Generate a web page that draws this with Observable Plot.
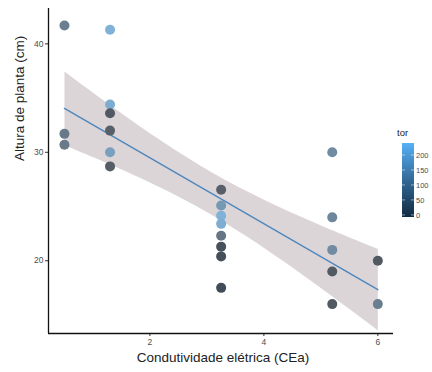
<!DOCTYPE html>
<html>
<head>
<meta charset="utf-8">
<script src="https://cdn.jsdelivr.net/npm/d3@7"></script>
<script src="https://cdn.jsdelivr.net/npm/@observablehq/plot@0.6"></script>
<style>
  html, body { margin: 0; padding: 0; background: #fff; overflow: hidden; }
  #wrap { position: relative; width: 432px; height: 372px; }
  #legend { position: absolute; left: 0; top: 0; pointer-events: none; }
</style>
</head>
<body>
<div id="wrap"></div>
<script>
// ---- data ----
const cea    = [0.5,0.5,0.5, 1.3,1.3,1.3,1.3,1.3,1.3, 3.25,3.25,3.25,3.25,3.25,3.25,3.25,3.25, 5.2,5.2,5.2,5.2,5.2, 6,6];
const altura = [41.7,31.7,30.7, 41.3,34.4,33.6,32.0,30.0,28.7, 26.55,25.1,24.15,23.4,22.3,21.3,20.4,17.5, 30.0,24.0,21.0,19.0,16.0, 20.0,16.0];
const tor    = [110,100,100, 230,220,30,40,190,35, 40,170,230,220,90,15,10,5, 140,130,140,30,30, 30,110];
const xTicks = [2, 4, 6];
const yTicks = [20, 30, 40];
const legendTicks = [0, 50, 100, 150, 200];
const xTitle = "Condutividade elétrica (CEa)";
const yTitle = "Altura de planta (cm)";
const legendTitle = "tor";

const xDomain = [0.22, 6.275];
const yDomain = [13.29, 43.26];
const torDomain = [-7, 240];

const data = cea.map((c, i) => ({cea: c, altura: altura[i], tor: tor[i]}));

const plot = Plot.plot({
  width: 432,
  height: 372,
  marginLeft: 48,
  marginRight: 39,
  marginTop: 8,
  marginBottom: 39,
  style: {fontFamily: "'Liberation Sans', Arial, sans-serif", fontSize: "8.5px", color: "#4d4d4d", background: "#fff"},
  x: {domain: xDomain},
  y: {domain: yDomain},
  color: {type: "linear", domain: [0, 50, 240], range: ["#3d4955", "#5f656d", "#82b5dc"], clamp: true},
  marks: [
    Plot.linearRegressionY(data, {x: "cea", y: "altura", ci: 0.95, stroke: "#4f88bd", strokeWidth: 1.5, fill: "#dcd5d8", fillOpacity: 1}),
    Plot.dot(data, {x: "cea", y: "altura", r: 5, fill: "tor", stroke: "none"}),
    Plot.axisX({ticks: xTicks, tickFormat: d3.format("d"), tickSize: 3, tickPadding: 2, label: null, stroke: "#333"}),
    Plot.axisY({ticks: yTicks, tickFormat: d3.format("d"), tickSize: 3, tickPadding: 2, label: null, stroke: "#333"}),
    Plot.ruleY([yDomain[0]], {stroke: "#111", strokeWidth: 1.3}),
    Plot.ruleX([xDomain[0]], {stroke: "#111", strokeWidth: 1.3}),
    Plot.text([xTitle], {frameAnchor: "bottom", dy: 28, dx: 2, fontSize: 13.5, fill: "#222"}),
    Plot.text([yTitle], {frameAnchor: "left", rotate: -90, dx: -29, dy: -10, fontSize: 13.5, fill: "#222"})
  ]
});
document.getElementById("wrap").appendChild(plot);

// ---- colourbar legend ----
const ly = d3.scaleLinear(torDomain, [217, 143]);
const ramp = d3.scaleLinear(torDomain, ["#132B43", "#56B1F7"]).interpolate(d3.interpolateLab);
const svg = d3.select("#wrap").append("svg")
  .attr("id", "legend").attr("width", 432).attr("height", 372)
  .style("font-family", "'Liberation Sans', Arial, sans-serif");
const grad = svg.append("defs").append("linearGradient")
  .attr("id", "g").attr("x1", 0).attr("y1", 1).attr("x2", 0).attr("y2", 0);
d3.range(0, 11).forEach(i => {
  const v = torDomain[0] + (torDomain[1] - torDomain[0]) * i / 10;
  grad.append("stop").attr("offset", i / 10).attr("stop-color", ramp(v));
});
svg.append("text").attr("x", 397).attr("y", 136).attr("font-size", 9.5).attr("fill", "#222").text(legendTitle);
svg.append("rect").attr("x", 402).attr("y", ly(torDomain[1])).attr("width", 12)
  .attr("height", ly(torDomain[0]) - ly(torDomain[1])).attr("fill", "url(#g)");
legendTicks.forEach(t => {
  svg.append("line").attr("x1", 402).attr("x2", 405).attr("y1", ly(t)).attr("y2", ly(t)).attr("stroke", "#fff").attr("stroke-opacity", 0.5);
  svg.append("line").attr("x1", 411).attr("x2", 414).attr("y1", ly(t)).attr("y2", ly(t)).attr("stroke", "#fff").attr("stroke-opacity", 0.5);
  svg.append("text").attr("x", 416).attr("y", ly(t)).attr("dy", "0.35em").attr("font-size", 7.5).attr("fill", "#4d4d4d").text(t);
});
</script>
</body>
</html>
